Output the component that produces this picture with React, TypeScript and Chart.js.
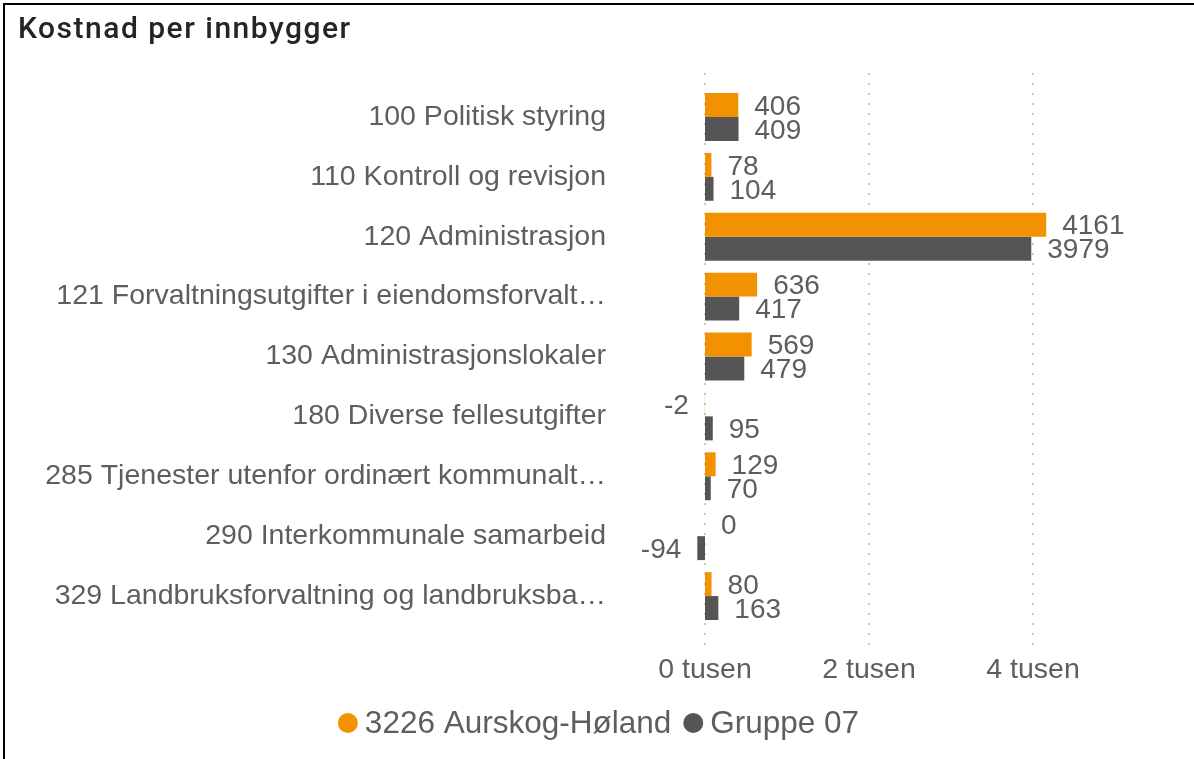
import React, { useEffect, useRef } from 'react';
import { Chart, registerables } from 'chart.js';

Chart.register(...registerables);

const titleText = 'Kostnad per innbygger';
const categories = [
  '100 Politisk styring',
  '110 Kontroll og revisjon',
  '120 Administrasjon',
  '121 Forvaltningsutgifter i eiendomsforvalt…',
  '130 Administrasjonslokaler',
  '180 Diverse fellesutgifter',
  '285 Tjenester utenfor ordinært kommunalt…',
  '290 Interkommunale samarbeid',
  '329 Landbruksforvaltning og landbruksba…',
];
const seriesNames = ['3226 Aurskog-Høland', 'Gruppe 07'];
const aurskogValues = [406, 78, 4161, 636, 569, -2, 129, 0, 80];
const gruppeValues = [409, 104, 3979, 417, 479, 95, 70, -94, 163];
const xTickValues = [0, 2000, 4000];
const xTickSuffix = ' tusen';
const seriesColors = ['#F39200', '#555555'];

const TEXT_COLOR = '#605E5C';
const FONT = "'Liberation Sans', Arial, sans-serif";

const gridPlugin = {
  id: 'dottedGrid',
  beforeDatasetsDraw(chart: any) {
    const { ctx, chartArea, scales } = chart;
    ctx.save();
    ctx.strokeStyle = '#c8c8c8';
    ctx.lineWidth = 2;
    ctx.setLineDash([2, 8]);
    xTickValues.forEach((v) => {
      const x = Math.round(scales.x.getPixelForValue(v));
      ctx.beginPath();
      ctx.moveTo(x, chartArea.top - 14);
      ctx.lineTo(x, chartArea.bottom + 19);
      ctx.stroke();
    });
    ctx.restore();
  },
};

const valueLabelPlugin = {
  id: 'valueLabels',
  afterDatasetsDraw(chart: any) {
    const { ctx } = chart;
    ctx.save();
    ctx.font = `28px ${FONT}`;
    ctx.fillStyle = TEXT_COLOR;
    ctx.textBaseline = 'middle';
    chart.data.datasets.forEach((ds: any, di: number) => {
      const meta = chart.getDatasetMeta(di);
      meta.data.forEach((el: any, i: number) => {
        const v = ds.data[i];
        const text = String(v);
        if (v >= 0) {
          ctx.textAlign = 'left';
          ctx.fillText(text, el.x + 16, el.y + 2);
        } else {
          ctx.textAlign = 'right';
          ctx.fillText(text, el.x - 16, el.y + 2);
        }
      });
    });
    ctx.restore();
  },
};

const legendPlugin = {
  id: 'customLegend',
  afterDraw(chart: any) {
    const { ctx } = chart;
    ctx.save();
    ctx.font = `31.5px ${FONT}`;
    ctx.textBaseline = 'alphabetic';
    ctx.textAlign = 'left';
    const d = 20;
    const gapIn = 7;
    const gapOut = 12;
    const widths = seriesNames.map((n) => ctx.measureText(n).width);
    let total = 0;
    widths.forEach((w, i) => {
      total += d + gapIn + w + (i < widths.length - 1 ? gapOut : 0);
    });
    let x = (5 + 1194) / 2 - total / 2 - 1;
    const cy = 723;
    seriesNames.forEach((n, i) => {
      ctx.fillStyle = seriesColors[i];
      ctx.beginPath();
      ctx.arc(x + d / 2, cy, d / 2, 0, Math.PI * 2);
      ctx.fill();
      x += d + gapIn;
      ctx.fillStyle = TEXT_COLOR;
      ctx.fillText(n, x, 733);
      x += widths[i] + gapOut;
    });
    ctx.restore();
  },
};

export default function App() {
  const canvasRef = useRef<HTMLCanvasElement | null>(null);

  useEffect(() => {
    if (!canvasRef.current) return;
    const chart = new Chart(canvasRef.current, {
      type: 'bar',
      data: {
        labels: categories,
        datasets: [
          {
            label: seriesNames[0],
            data: aurskogValues,
            backgroundColor: seriesColors[0],
            categoryPercentage: 0.8,
            barPercentage: 1,
          },
          {
            label: seriesNames[1],
            data: gruppeValues,
            backgroundColor: seriesColors[1],
            categoryPercentage: 0.8,
            barPercentage: 1,
          },
        ],
      },
      options: {
        indexAxis: 'y',
        responsive: false,
        animation: false,
        devicePixelRatio: 1,
        layout: { padding: { top: 87, right: 44, bottom: 0, left: 0 } },
        plugins: {
          legend: { display: false },
          tooltip: { enabled: false },
          title: { display: false },
        },
        scales: {
          x: {
            type: 'linear',
            min: -792.7,
            max: 5426.8,
            grid: { display: false, drawTicks: false },
            border: { display: false },
            afterBuildTicks: (scale: any) => {
              scale.ticks = xTickValues.map((v) => ({ value: v }));
            },
            afterFit: (scale: any) => {
              scale.height = 133;
            },
            ticks: {
              padding: 27,
              color: TEXT_COLOR,
              font: { family: FONT, size: 28.5 },
              callback: (v: any) => `${Number(v) / 1000}${xTickSuffix}`,
            },
          },
          y: {
            type: 'category',
            grid: { display: false, drawTicks: false },
            border: { display: false },
            afterFit: (scale: any) => {
              scale.width = 640;
            },
            ticks: {
              padding: 34,
              color: TEXT_COLOR,
              font: { family: FONT, size: 28.5 },
            },
          },
        },
      },
      plugins: [gridPlugin, valueLabelPlugin, legendPlugin],
    });
    return () => chart.destroy();
  }, []);

  return (
    <div style={{ position: 'absolute', left: 0, top: 0, width: 1194, height: 759, background: '#fff', overflow: 'hidden' }}>
      <div
        style={{
          position: 'absolute',
          left: 3,
          top: 3,
          width: 1191,
          height: 756,
          borderLeft: '2px solid #000',
          borderTop: '2px solid #000',
          boxSizing: 'border-box',
        }}
      />
      <canvas ref={canvasRef} width={1194} height={759} style={{ position: 'absolute', left: 0, top: 0, width: 1194, height: 759 }} />
      <div
        style={{
          position: 'absolute',
          left: 18,
          top: 8,
          fontFamily: "'Roboto', sans-serif",
          fontWeight: 500,
          fontSize: 30,
          letterSpacing: '1.5px',
          lineHeight: '40px',
          color: '#252423',
          whiteSpace: 'nowrap',
        }}
      >
        {titleText}
      </div>
    </div>
  );
}
